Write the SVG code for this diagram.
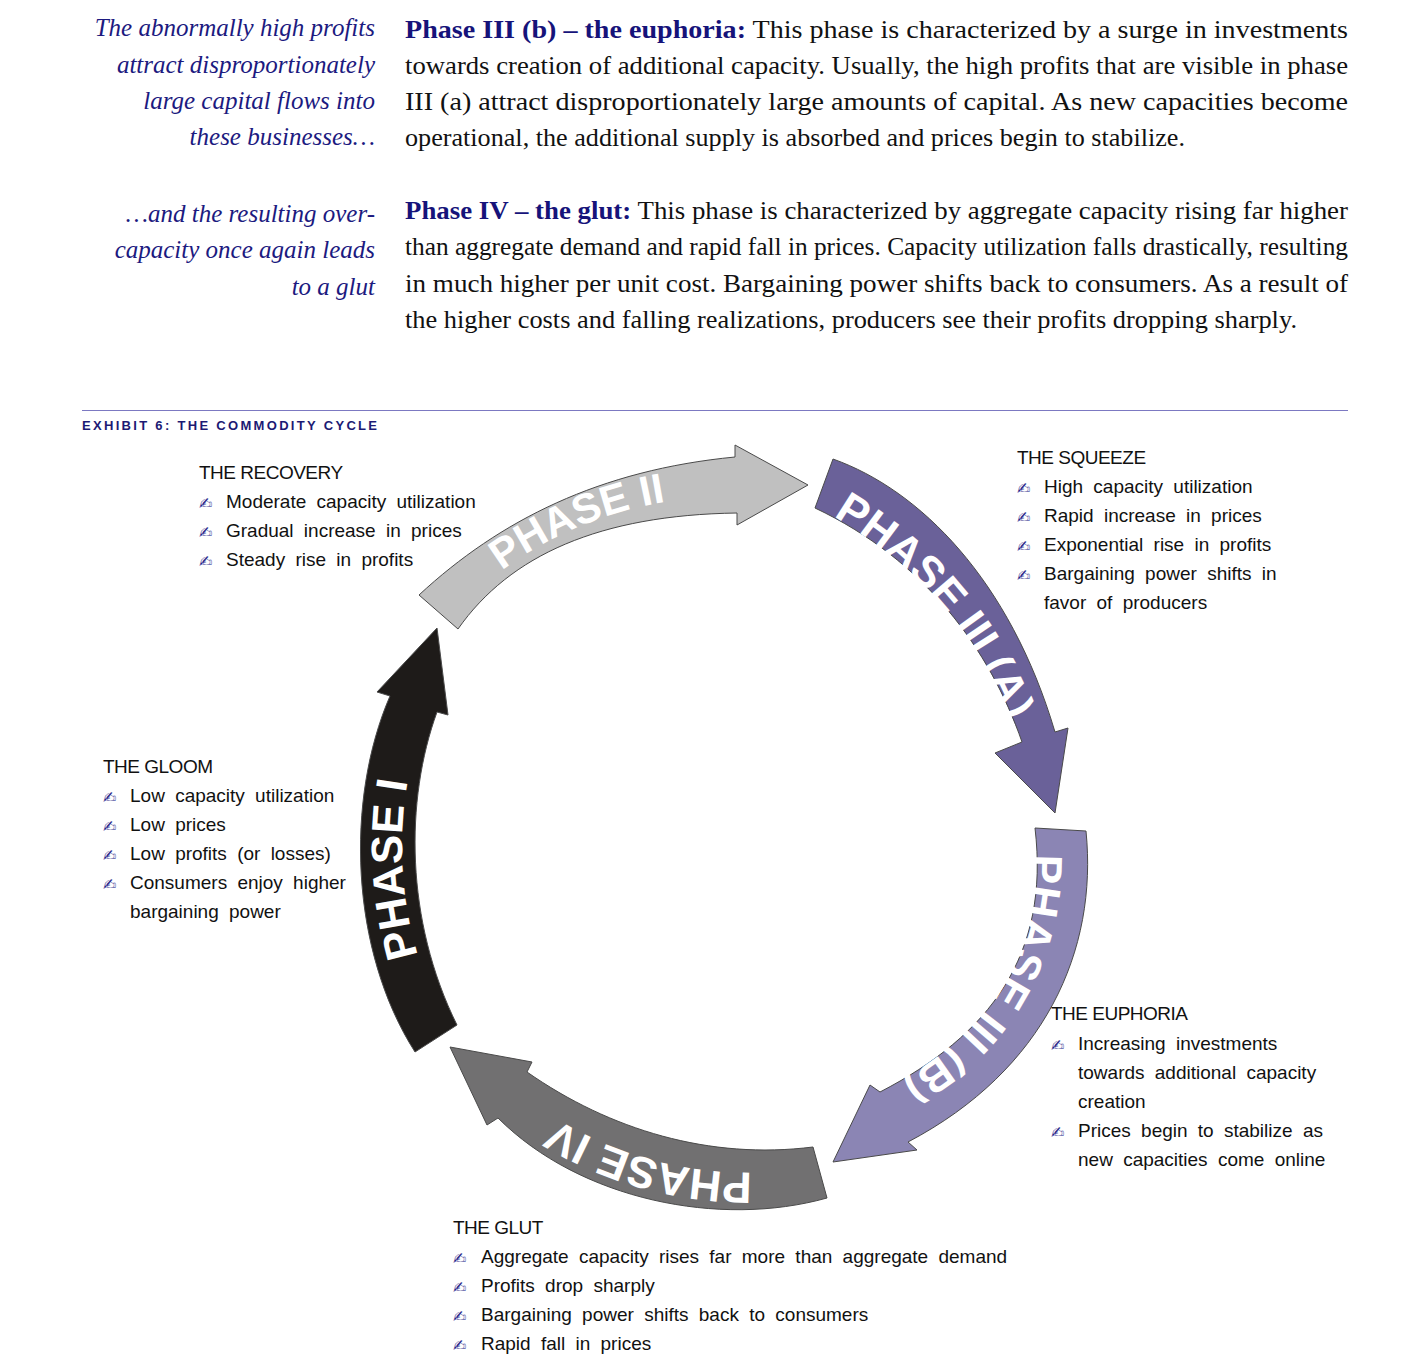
<svg xmlns="http://www.w3.org/2000/svg" xmlns:xlink="http://www.w3.org/1999/xlink" width="1414" height="1368" viewBox="0 0 1414 1368">
<style>
  .note { font-family: "Liberation Serif", "Times New Roman", serif; font-style: italic; font-size: 25px; fill: #1c1a80; text-anchor: end; }
  .para { font-family: "Liberation Serif", "Times New Roman", serif; font-size: 25px; fill: #111; }
  .lead { font-weight: bold; fill: #16137a; }
  .title { font-family: "Liberation Sans", Arial, sans-serif; font-weight: bold; font-size: 13px; fill: #1c1a74; letter-spacing: 3px; }
  .head { font-family: "Liberation Sans", Arial, sans-serif; font-size: 19px; fill: #111; letter-spacing: -0.5px; }
  .item { font-family: "Liberation Sans", Arial, sans-serif; font-size: 19px; fill: #111; word-spacing: 5px; }
  .bul { font-family: "DejaVu Sans", sans-serif; font-size: 16px; fill: #2b2a8c; }
  .arrow { stroke: #4a4a4a; stroke-width: 1; stroke-linejoin: miter; }
  .lbl { font-family: "Liberation Sans", Arial, sans-serif; font-weight: bold; font-size: 44px; fill: #ffffff; text-anchor: middle; }
</style>
<defs>
  <path id="p2" d="M 364.9,763.2 A 378 378 0 0 1 898.8,538.8"/>
  <path id="p3a" d="M 623.1,460 A 409 409 0 0 1 1029.3,937.2"/>
  <path id="p3b" d="M 1016.6,777.5 A 247 247 0 0 1 827.4,1105.2"/>
  <path id="p4" d="M 956.4,1107.6 A 367 367 0 0 1 414.3,958.3"/>
  <path id="p1" d="M 557.5,1155.1 A 385 385 0 0 1 522.5,566.3"/>
</defs>
<rect width="1414" height="1368" fill="#ffffff"/>

<g id="margin-notes">
  <text class="note" x="375" y="36">The abnormally high profits</text>
  <text class="note" x="375" y="73">attract  disproportionately</text>
  <text class="note" x="375" y="109">large capital flows into</text>
  <text class="note" x="375" y="145">these businesses…</text>
  <text class="note" x="375" y="222">…and the resulting over-</text>
  <text class="note" x="375" y="258">capacity once again leads</text>
  <text class="note" x="375" y="295">to a glut</text>
</g>

<g id="paragraph-phase-3b">
  <text class="para" x="405" y="38" textLength="943" lengthAdjust="spacingAndGlyphs"><tspan class="lead">Phase III (b) – the euphoria:</tspan> This phase is characterized by a surge in investments</text>
  <text class="para" x="405" y="74" textLength="943" lengthAdjust="spacingAndGlyphs">towards creation of additional capacity. Usually, the high profits that are visible in phase</text>
  <text class="para" x="405" y="110" textLength="943" lengthAdjust="spacingAndGlyphs">III (a) attract disproportionately large amounts of capital. As new capacities become</text>
  <text class="para" x="405" y="146" textLength="780" lengthAdjust="spacingAndGlyphs">operational, the additional supply is absorbed and prices begin to stabilize.</text>
</g>

<g id="paragraph-phase-4">
  <text class="para" x="405" y="219" textLength="943" lengthAdjust="spacingAndGlyphs"><tspan class="lead">Phase IV – the glut:</tspan> This phase is characterized by aggregate capacity rising far higher</text>
  <text class="para" x="405" y="255" textLength="943" lengthAdjust="spacingAndGlyphs">than aggregate demand and rapid fall in prices. Capacity utilization falls drastically, resulting</text>
  <text class="para" x="405" y="292" textLength="943" lengthAdjust="spacingAndGlyphs">in much higher per unit cost. Bargaining power shifts back to consumers. As a result of</text>
  <text class="para" x="405" y="328" textLength="892" lengthAdjust="spacingAndGlyphs">the higher costs and falling realizations, producers see their profits dropping sharply.</text>
</g>

<g id="exhibit-title">
  <line x1="82" y1="410.5" x2="1348" y2="410.5" stroke="#7c79c2" stroke-width="1.2"/>
  <text class="title" x="82" y="430" textLength="298" lengthAdjust="spacing">EXHIBIT 6: THE COMMODITY CYCLE</text>
</g>

<g id="cycle-arrows">
  <g id="phase-2">
    <path class="arrow" fill="#c0c0c0" d="M 419,595 C 500,520 600,470 735,457 L 735,445 L 808,485 L 737,525 L 737,513 C 600,515 510,555 458,629 Z"/>
    <text class="lbl" style="font-size:42px"><textPath xlink:href="#p2" href="#p2" startOffset="50%">PHASE II</textPath></text>
  </g>
  <g id="phase-3a">
    <path class="arrow" fill="#6a6199" d="M 833,459 C 920,490 1010,580 1055,732 L 1068,728 L 1055,813 L 995,753 L 1022,742 C 990,650 925,560 815,508 Z"/>
    <text class="lbl"><textPath xlink:href="#p3a" href="#p3a" startOffset="50%">PHASE III (A)</textPath></text>
  </g>
  <g id="phase-3b">
    <path class="arrow" fill="#8b85b4" d="M 1035,828 L 1086,831 C 1098,950 1045,1070 908,1142 L 917,1150 L 833,1162 L 870,1085 L 880,1092 C 990,1035 1050,955 1035,828 Z"/>
    <text class="lbl"><textPath xlink:href="#p3b" href="#p3b" startOffset="50%">PHASE III (B)</textPath></text>
  </g>
  <g id="phase-4">
    <path class="arrow" fill="#717071" d="M 450,1047 L 532,1062 L 527,1072 C 610,1130 710,1160 813,1147 L 827,1198 C 720,1228 580,1200 498,1118 L 487,1125 Z"/>
    <text class="lbl"><textPath xlink:href="#p4" href="#p4" startOffset="50%">PHASE IV</textPath></text>
  </g>
  <g id="phase-1">
    <path class="arrow" fill="#1e1b19" d="M 437,628 L 448,715 L 437,712 C 405,800 405,920 457,1025 L 415,1052 C 350,950 345,800 390,696 L 377,692 Z"/>
    <text class="lbl"><textPath xlink:href="#p1" href="#p1" startOffset="50%">PHASE I</textPath></text>
  </g>
</g>

<g id="the-recovery">
  <text class="head" x="199" y="479">THE RECOVERY</text>
  <text class="bul" x="199" y="509">✍</text><text class="item" x="226" y="508">Moderate capacity utilization</text>
  <text class="bul" x="199" y="538">✍</text><text class="item" x="226" y="537">Gradual increase in prices</text>
  <text class="bul" x="199" y="567">✍</text><text class="item" x="226" y="566">Steady rise in profits</text>
</g>

<g id="the-squeeze">
  <text class="head" x="1017" y="464">THE SQUEEZE</text>
  <text class="bul" x="1017" y="494">✍</text><text class="item" x="1044" y="493">High capacity utilization</text>
  <text class="bul" x="1017" y="523">✍</text><text class="item" x="1044" y="522">Rapid increase in prices</text>
  <text class="bul" x="1017" y="552">✍</text><text class="item" x="1044" y="551">Exponential rise in profits</text>
  <text class="bul" x="1017" y="581">✍</text><text class="item" x="1044" y="580">Bargaining power shifts in</text>
  <text class="item" x="1044" y="609">favor of producers</text>
</g>

<g id="the-gloom">
  <text class="head" x="103" y="773">THE GLOOM</text>
  <text class="bul" x="103" y="803">✍</text><text class="item" x="130" y="802">Low capacity utilization</text>
  <text class="bul" x="103" y="832">✍</text><text class="item" x="130" y="831">Low prices</text>
  <text class="bul" x="103" y="861">✍</text><text class="item" x="130" y="860">Low profits (or losses)</text>
  <text class="bul" x="103" y="890">✍</text><text class="item" x="130" y="889">Consumers enjoy higher</text>
  <text class="item" x="130" y="918">bargaining power</text>
</g>

<g id="the-euphoria">
  <text class="head" x="1051" y="1020">THE EUPHORIA</text>
  <text class="bul" x="1051" y="1051">✍</text><text class="item" x="1078" y="1050">Increasing investments</text>
  <text class="item" x="1078" y="1079">towards additional capacity</text>
  <text class="item" x="1078" y="1108">creation</text>
  <text class="bul" x="1051" y="1138">✍</text><text class="item" x="1078" y="1137">Prices begin to stabilize as</text>
  <text class="item" x="1078" y="1166">new capacities come online</text>
</g>

<g id="the-glut">
  <text class="head" x="453" y="1234">THE GLUT</text>
  <text class="bul" x="453" y="1264">✍</text><text class="item" x="481" y="1263">Aggregate capacity rises far more than aggregate demand</text>
  <text class="bul" x="453" y="1293">✍</text><text class="item" x="481" y="1292">Profits drop sharply</text>
  <text class="bul" x="453" y="1322">✍</text><text class="item" x="481" y="1321">Bargaining power shifts back to consumers</text>
  <text class="bul" x="453" y="1351">✍</text><text class="item" x="481" y="1350">Rapid fall in prices</text>
</g>
</svg>
